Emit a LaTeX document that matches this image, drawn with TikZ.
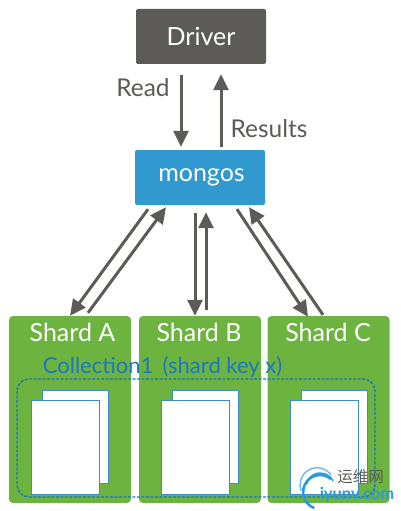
\documentclass[tikz,border=0pt]{standalone}
\usepackage{fontspec}
\setmainfont{Lato}
\newfontfamily\cjk{Noto Sans CJK SC}
\usetikzlibrary{arrows.meta}
\definecolor{drivergray}{HTML}{5C5B57}
\definecolor{mongosblue}{HTML}{3199CF}
\definecolor{shardgreen}{HTML}{6DB33F}
\definecolor{collblue}{HTML}{1A78C2}
\definecolor{markblue}{HTML}{2A9BD8}
\tikzset{
  topbox/.style={rounded corners=2pt,minimum width=130pt,minimum height=55pt,text=white,font=\fontsize{25}{28}\selectfont},
  shardbox/.style={fill=shardgreen,rounded corners=4pt,minimum width=122pt,minimum height=187pt},
  shardlabel/.style={text=white,inner sep=0pt,font=\fontsize{25}{28}\selectfont},
  sheet/.style={draw=collblue!85!white,fill=white,line width=1pt,inner sep=0pt,minimum width=66pt,minimum height=93pt},
  flow/.style={draw=drivergray,line width=3pt,-{Triangle[length=16pt,width=15pt]}},
  graytext/.style={text=drivergray,inner sep=0pt,font=\fontsize{24.5}{28}\selectfont},
}
\begin{document}
\begin{tikzpicture}[x=1pt,y=-1pt]
\useasboundingbox (0,0) rectangle (400,511);
\fill[white] (0,0) rectangle (400,511);
% boxes
\node[topbox,fill=drivergray] (driver) at (201,36.5) {Driver};
\node[topbox,fill=mongosblue] (mongos) at (200,177.5) {\hspace*{3pt}mongos};
\node[shardbox] (shardA) at (70,409.5) {};
\node[shardbox] (shardB) at (200,409.5) {};
\node[shardbox] (shardC) at (328.5,409.5) {};
\node[shardlabel] (labelA) at (72.5,332) {Shard A};
\node[shardlabel] (labelB) at (199,332) {Shard B};
\node[shardlabel] (labelC) at (328,332) {Shard C};
% read and results
\draw[flow] ([xshift=-20pt,yshift=-11pt]driver.south) -- ([xshift=-19pt,yshift=3pt]mongos.north);
\draw[flow] ([xshift=21pt,yshift=3pt]mongos.north) -- ([xshift=20pt,yshift=-10pt]driver.south);
\node[graytext] (read) at (143,88) {Read};
\node[graytext] (results) at (269,129) {Results};
% mongos to shards
\draw[flow] ([xshift=-52pt,yshift=-4pt]mongos.south) -- (shardA.north);
\draw[flow] ([xshift=18pt,yshift=3pt]shardA.north) -- ([xshift=-34pt,yshift=-2pt]mongos.south);
\draw[flow] ([xshift=-5pt,yshift=-8pt]mongos.south) -- ([xshift=-5pt]shardB.north);
\draw[flow] ([xshift=6pt,yshift=6pt]shardB.north) -- ([xshift=6pt,yshift=-7pt]mongos.south);
\draw[flow] ([xshift=37pt,yshift=-4pt]mongos.south) -- ([xshift=-20.5pt,yshift=-1pt]shardC.north);
\draw[flow] ([xshift=-5.5pt,yshift=1pt]shardC.north) -- ([xshift=49pt,yshift=-2pt]mongos.south);
% documents
\foreach \name/\x in {A/0,B/130,C/259}{
  \node[sheet] (back\name) at (75.5+\x,436.5) {};
  \node[sheet,minimum width=68pt,minimum height=94pt] (front\name) at (65+\x,447) {};
}
% collection
\draw[collblue,line width=1.4pt,rounded corners=12pt,dash pattern=on 3pt off 1.5pt] (17,379) rectangle (375,497);
\node[text=collblue,inner sep=0pt,font=\fontsize{22}{26}\selectfont] (coll) at (162.5,367) {Collection1 \,(shard key x)};
% watermark
\draw[markblue,line width=2.6pt] (331,479) arc[start angle=50,end angle=250,radius=17pt];
\draw[markblue!70!white,line width=1.4pt] (331,475) arc[start angle=35,end angle=200,radius=17pt];
\draw[markblue,line width=1.4pt] (333,481) arc[start angle=25,end angle=170,radius=14pt];
\node[text=drivergray,inner sep=0pt,font=\cjk\fontsize{15.5}{17}\selectfont] (markcn) at (360.5,477) {运维网};
\node[text=markblue,inner sep=0pt,font=\bfseries\fontsize{16.5}{18}\selectfont] (markurl) at (357,495) {iyunv.com};
\end{tikzpicture}
\end{document}
